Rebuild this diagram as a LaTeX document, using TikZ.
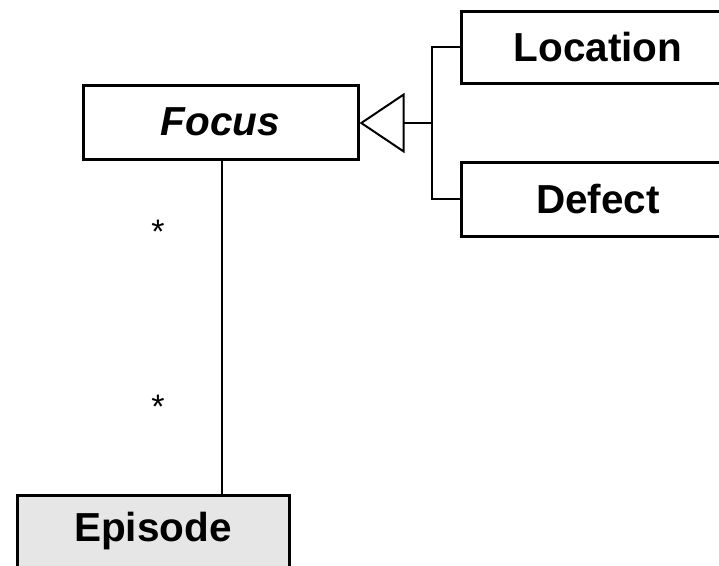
\documentclass[tikz,border=0pt]{standalone}
\usepackage{fontspec}
\setmainfont{Liberation Sans}
\usetikzlibrary{arrows.meta}
\begin{document}
\begin{tikzpicture}[x=1pt,y=-1pt,
  cls/.style={draw=black, line width=3pt, fill=white, inner sep=0pt, font=\fontsize{40.5}{45}\selectfont\bfseries},
  conn/.style={draw=black, line width=2pt},
  mult/.style={inner sep=0pt, font=\fontsize{34}{38}\selectfont}]
\useasboundingbox (0,0) rectangle (719,565);
\node[cls, minimum width=275pt, minimum height=74pt] (focus) at (220.5,122) {\itshape Focus};
\node[cls, minimum width=274pt, minimum height=72pt] (location) at (598,47) {Location};
\node[cls, minimum width=274pt, minimum height=74pt] (defect) at (598,199) {Defect};
\node[cls, fill={rgb,255:red,230;green,230;blue,230}, minimum width=272pt, minimum height=80pt] (episode) at (153,535) {};
\node[font=\fontsize{40.5}{45}\selectfont\bfseries, inner sep=0pt] (eplabel) at (153,531) {Episode};
\coordinate (hub) at (432,123);
\draw[conn] (location.west) -| (hub) |- (defect.west);
\draw[conn, -{Triangle[open, length=45pt, width=60pt, line width=2pt]}] (hub) -- (focus.east |- hub);
\draw[conn] (222,159) coordinate (fs) -- (fs |- episode.north);
\node[mult] (m1) at (158,232) {*};
\node[mult] (m2) at (158,407) {*};
\end{tikzpicture}
\end{document}
